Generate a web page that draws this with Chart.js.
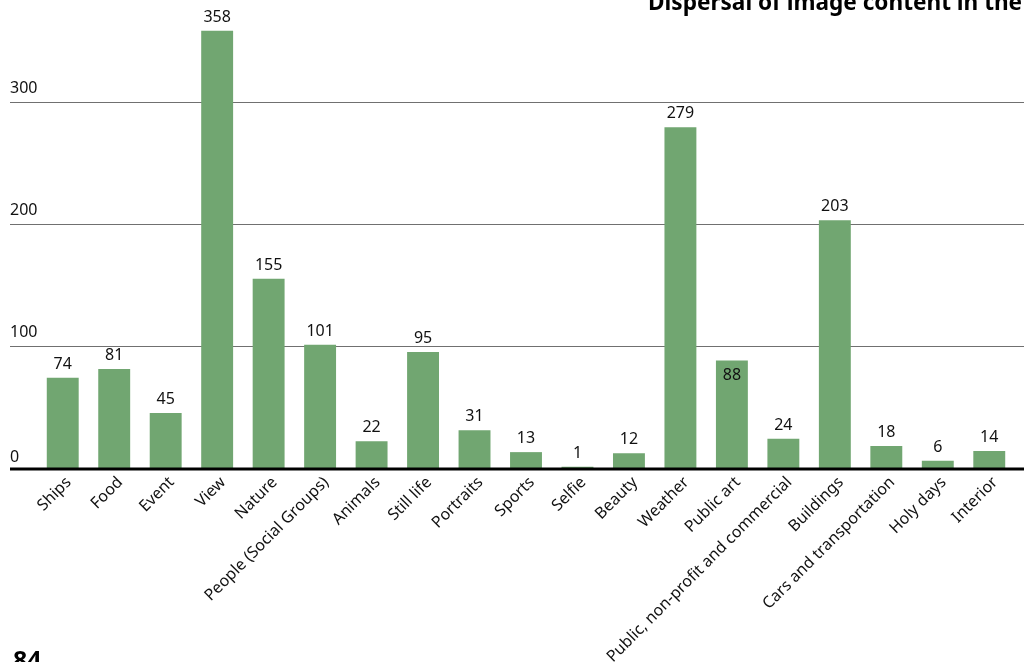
<!DOCTYPE html>
<html>
<head>
<meta charset="utf-8">
<title>Dispersal of image content</title>
<script src="https://cdn.jsdelivr.net/npm/chart.js@4/dist/chart.umd.min.js"></script>
<style>
  html, body { margin: 0; padding: 0; background: #ffffff; }
  #wrap { width: 1024px; height: 662px; position: relative; }
</style>
</head>
<body>
<div id="wrap"><canvas id="chart" width="1024" height="662"></canvas></div>
<script>
// Image content categories and the number of images in each
const categories = [
  'Ships', 'Food', 'Event', 'View', 'Nature', 'People (Social Groups)',
  'Animals', 'Still life', 'Portraits', 'Sports', 'Selfie', 'Beauty',
  'Weather', 'Public art', 'Public, non-profit and commercial', 'Buildings',
  'Cars and transportation', 'Holy days', 'Interior'
];
const counts = [74, 81, 45, 358, 155, 101, 22, 95, 31, 13, 1, 12, 279, 88, 24, 203, 18, 6, 14];

// Value-axis ticks
const yTicks = [0, 100, 200, 300];

// Bars whose value label sits inside the bar top
const insideLabels = ['Public art'];

const titleText = 'Dispersal of image content in the';
const pageNumber = '84';

const FONT = '"Noto Sans", "Open Sans", "DejaVu Sans", sans-serif';
const BAR_GREEN = '#71a671';

// Horizontal rules and their labels span the full page width
const ruleSpan = { left: 10, right: 1024 };

const decorations = {
  id: 'decorations',
  beforeDatasetsDraw(chart) {
    const { ctx } = chart;
    const y = chart.scales.y;
    ctx.save();
    ctx.strokeStyle = '#707070';
    ctx.lineWidth = 1;
    yTicks.forEach(v => {
      if (v === 0) return;
      const py = Math.round(y.getPixelForValue(v)) + 0.5;
      ctx.beginPath();
      ctx.moveTo(ruleSpan.left, py);
      ctx.lineTo(ruleSpan.right, py);
      ctx.stroke();
    });
    ctx.fillStyle = '#111111';
    ctx.font = '16px ' + FONT;
    ctx.textAlign = 'left';
    ctx.textBaseline = 'alphabetic';
    yTicks.forEach(v => {
      const py = y.getPixelForValue(v);
      ctx.fillText(String(v), ruleSpan.left, py - (v === 0 ? 6 : 9));
    });
    ctx.restore();
  },
  afterDatasetsDraw(chart) {
    const { ctx } = chart;
    const y = chart.scales.y;
    ctx.save();
    // baseline axis
    const py0 = y.getPixelForValue(0);
    ctx.strokeStyle = '#000000';
    ctx.lineWidth = 3;
    ctx.beginPath();
    ctx.moveTo(ruleSpan.left, py0 + 1);
    ctx.lineTo(ruleSpan.right, py0 + 1);
    ctx.stroke();

    // value labels
    const meta = chart.getDatasetMeta(0);
    ctx.fillStyle = '#111111';
    ctx.font = '16px ' + FONT;
    ctx.textAlign = 'center';
    ctx.textBaseline = 'alphabetic';
    meta.data.forEach((bar, i) => {
      const inside = insideLabels.includes(categories[i]);
      const ty = inside ? bar.y + 19 : bar.y - 9;
      ctx.fillText(String(counts[i]), bar.x, ty);
    });

    // title (runs off the top-right of the page)
    ctx.font = 'bold 22.6px ' + FONT;
    ctx.textAlign = 'left';
    ctx.fillStyle = '#000000';
    ctx.fillText(titleText, 648, 10);

    // page number
    ctx.font = 'bold 25px ' + FONT;
    ctx.fillText(pageNumber, 13, 669);
    ctx.restore();
  }
};

new Chart(document.getElementById('chart'), {
  type: 'bar',
  data: {
    labels: categories,
    datasets: [{
      data: counts,
      backgroundColor: BAR_GREEN,
      borderWidth: 0,
      barPercentage: 0.62,
      categoryPercentage: 1.0
    }]
  },
  options: {
    responsive: false,
    animation: false,
    layout: { padding: { left: 37, right: 9, top: 4, bottom: 0 } },
    plugins: {
      legend: { display: false },
      tooltip: { enabled: false },
      title: { display: false }
    },
    scales: {
      x: {
        grid: { display: false, drawTicks: false },
        border: { display: false },
        ticks: {
          color: '#111111',
          font: { family: FONT, size: 16 },
          minRotation: 45,
          maxRotation: 45,
          autoSkip: false,
          padding: 5,
          labelOffset: 6
        },
        afterFit(scale) { scale.height = 194; }
      },
      y: {
        display: false,
        min: 0,
        max: 380
      }
    }
  },
  plugins: [decorations]
});
</script>
</body>
</html>
